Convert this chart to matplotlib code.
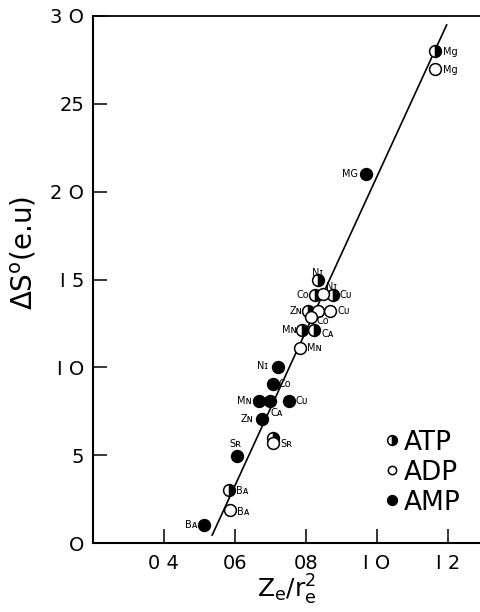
import matplotlib
matplotlib.use("Agg")
import matplotlib.pyplot as plt
import numpy as np

# ---- data ----
atp_ions = ["Mg", "Ni", "Co", "Cu", "Zn", "Mn", "Ca", "Sr", "Ba"]
atp_x = [1.163, 0.833, 0.825, 0.877, 0.807, 0.790, 0.823, 0.706, 0.583]
atp_y = [28.0, 15.0, 14.1, 14.1, 13.2, 12.1, 12.1, 6.0, 3.0]
atp_labels = ["Mg", "Nɪ", "Co", "Cᴜ", "Zɴ", "Mɴ", "Cᴀ", "Sʀ", "Bᴀ"]

adp_ions = ["Mg", "Ni", "Co", "Cu", "Zn", "Mn", "Sr", "Ba"]
adp_x = [1.163, 0.849, 0.835, 0.868, 0.814, 0.783, 0.706, 0.586]
adp_y = [27.0, 14.15, 13.2, 13.2, 12.85, 11.1, 5.7, 1.9]
adp_labels = ["Mg", "Nɪ", "Co", "Cᴜ", "", "Mɴ", "", "Bᴀ"]

amp_ions = ["Mg", "Ni", "Co", "Mn", "Ca", "Cu", "Zn", "Sr", "Ba"]
amp_x = [0.968, 0.722, 0.706, 0.668, 0.700, 0.752, 0.675, 0.606, 0.513]
amp_y = [21.0, 10.0, 9.05, 8.1, 8.1, 8.1, 7.05, 4.95, 1.0]
amp_labels = ["MG", "Nɪ", "Co", "Mɴ", "Cᴀ", "Cᴜ", "Zɴ", "Sʀ", "Bᴀ"]

fit_slope = 44.0
fit_x_range = [0.536, 1.196]
fit_y_start = 0.45

x_ticks = [0.4, 0.6, 0.8, 1.0, 1.2]
x_ticklabels = ["0 4", "06", "08", "I O", "I 2"]
y_ticks = [0, 5, 10, 15, 20, 25, 30]
y_ticklabels = ["O", "5", "I O", "I 5", "2 O", "25", "3 O"]

# ---- label offsets (pixels) & alignment ----
atp_off = [(8, -1, "left"), (0, 7, "center"), (-6, 0, "right"), (6, 0, "left"),
           (-6, 0, "right"), (-6, 0, "right"), (7, -4, "left"), (8, -6, "left"),
           (7, -1, "left")]
adp_off = [(8, -1, "left"), (8, 7, "center"), (4, -10, "center"), (7, 0, "left"),
           (0, 0, "left"), (7, 0, "left"), (0, 0, "left"), (7, -2, "left")]
amp_off = [(-8, 0, "right"), (-10, 1, "right"), (6, 0, "left"), (-7, 0, "right"),
           (6, -12, "center"), (7, 0, "left"), (-8, 0, "right"), (-2, 12, "center"),
           (-7, 0, "right")]

fig = plt.figure(figsize=(4.81, 6.12), dpi=100)
ax = fig.add_axes([0.193, 0.1127, 0.805, 0.8612])
ax.set_xlim(0.2, 1.29)
ax.set_ylim(0, 30)

# fit line
fx = np.array(fit_x_range)
fy = fit_y_start + fit_slope * (fx - fit_x_range[0])
ax.plot(fx, fy, color="black", lw=1.2, zorder=1)

ms = 8.5
ax.plot(atp_x, atp_y, "o", ms=ms, mfc="black", mfcalt="white", fillstyle="right",
        mec="black", mew=1.1, ls="none", zorder=3)
ax.plot(adp_x, adp_y, "o", ms=ms, mfc="white", mec="black", mew=1.1, ls="none", zorder=3)
ax.plot(amp_x, amp_y, "o", ms=ms, mfc="black", mec="black", mew=1.1, ls="none", zorder=3)

lab_font = dict(fontsize=7, color="black", va="center")
for xs, ys, labs, offs in [(atp_x, atp_y, atp_labels, atp_off),
                           (adp_x, adp_y, adp_labels, adp_off),
                           (amp_x, amp_y, amp_labels, amp_off)]:
    for x, y, t, (dx, dy, ha) in zip(xs, ys, labs, offs):
        if t:
            ax.annotate(t, (x, y), xytext=(dx, dy), textcoords="offset pixels",
                        ha=ha, zorder=4, **lab_font)

# legend handles
h1, = ax.plot([], [], "o", ms=7, mfc="black", mfcalt="white", fillstyle="right",
              mec="black", mew=1.1, ls="none")
h2, = ax.plot([], [], "o", ms=6, mfc="white", mec="black", mew=1.1, ls="none")
h3, = ax.plot([], [], "o", ms=7, mfc="black", mec="black", mew=1.1, ls="none")
ax.legend([h1, h2, h3], ["ATP", "ADP", "AMP"], loc="upper left",
          bbox_to_anchor=(0.752, 0.215), frameon=False, fontsize=19,
          handlelength=0.6, handletextpad=0.15, labelspacing=0.15,
          borderpad=0, borderaxespad=0)

ax.set_xticks(x_ticks)
ax.set_xticklabels(x_ticklabels)
ax.set_yticks(y_ticks)
ax.set_yticklabels(y_ticklabels)
ax.tick_params(direction="in", length=10, width=1.1, labelsize=14, pad=6)
ax.tick_params(axis="x", pad=8)

for s in ["left", "bottom"]:
    ax.spines[s].set_linewidth(1.5)
ax.spines["top"].set_linewidth(1.3)
ax.spines["right"].set_linewidth(0.6)

ax.set_xlabel(r"$\mathregular{Z_e/r_e^2}$", fontsize=18, labelpad=0)
ax.set_ylabel(r"$\mathregular{\Delta S^{o}}$(e.u)", fontsize=20, labelpad=4)
ax.yaxis.set_label_coords(-0.14, 0.55)

fig.savefig("out.png", dpi=100)
